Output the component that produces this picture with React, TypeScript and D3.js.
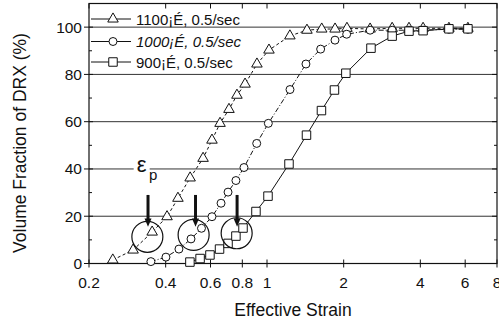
import React from "react";
import * as d3 from "d3";

const strain1100 = [0.248,0.298,0.354,0.405,0.447,0.499,0.561,0.608,0.654,0.709,0.762,0.820,0.913,1.018,1.23,1.435,1.64,1.85,2.06,2.54,3.10,3.61,4.10,5.18,6.15];
const drx1100 = [1.5,5.7,13.3,19.8,27.6,36.2,44.5,52.2,59.3,65.2,71.2,75.9,84.4,90.3,96.3,98.7,99.2,99.2,99.5,99.2,99.5,99.5,99.5,99.5,99.5];

const strain1000 = [0.350,0.401,0.451,0.503,0.553,0.608,0.660,0.703,0.755,0.812,0.911,1.012,1.231,1.422,1.624,1.849,2.055,2.54,3.10,3.61,4.10,5.18,6.15];
const drx1000 = [0.8,2.7,6.1,10.4,14.9,19.8,25.5,30.2,35.1,40.6,50.8,59.3,73.6,84.4,90.7,94.5,97.0,98.7,98.7,98.7,98.7,99.1,99.1];

const strain900 = [0.498,0.546,0.597,0.651,0.703,0.755,0.805,0.905,1.009,1.22,1.429,1.636,1.84,2.04,2.56,3.10,3.61,4.10,5.18,6.15];
const drx900 = [0.6,2.1,3.6,6.1,8.5,11.6,15.0,22.0,28.5,42.1,54.3,64.7,73.4,80.5,91.1,96.2,98.3,98.5,99.3,99.3];

const seriesLabels = ["1100¡É, 0.5/sec", "1000¡É, 0.5/sec", "900¡É, 0.5/sec"];
const xTicks = [0.2, 0.4, 0.6, 0.8, 1, 2, 4, 6, 8];
const xTickLabels = ["0.2", "0.4", "0.6", "0.8", "1", "2", "4", "6", "8"];
const yTicks = [0, 20, 40, 60, 80, 100];
const yMinor = [10, 30, 50, 70, 90, 110];
const gridValues = [20, 40, 60, 80, 100];

// annotation (epsilon_p) positions in data units
const annotStrain = [0.339, 0.515, 0.760];
const annotValue = [11.3, 12.1, 12.8];
const arrowStrain = [0.341, 0.524, 0.763];

export default function App() {
  const W = 499, H = 321;
  const left = 89, right = 497, top = 3.5, bottom = 263.5;
  const x = d3.scaleLog().domain([0.2, 8]).range([left, right]);
  const y = d3.scaleLinear().domain([0, 110]).range([bottom, top]);

  const series = [
    { xs: strain1100, ys: drx1100, sym: d3.symbolTriangle, size: 48, dash: "3,2.5", italic: false },
    { xs: strain1000, ys: drx1000, sym: d3.symbolCircle, size: 50, dash: "5,2,1,2", italic: true },
    { xs: strain900, ys: drx900, sym: d3.symbolSquare, size: 72, dash: null, italic: false },
  ];

  const line = d3.line<[number, number]>().x(d => x(d[0])).y(d => y(d[1]));

  const legendY = [19, 41.5, 62];

  return (
    <svg width={W} height={H} style={{ position: "absolute", left: 0, top: 0, background: "#fff" }}
      fontFamily="Arial, 'Liberation Sans', sans-serif">
      <rect x={0} y={0} width={W} height={H} fill="#fff" />
      {/* grid */}
      {gridValues.map(v => (
        <line key={"g" + v} x1={left} x2={right} y1={y(v)} y2={y(v)} stroke="#333" strokeWidth={1} />
      ))}
      {/* frame */}
      <rect x={left} y={top} width={right - left} height={bottom - top} fill="none" stroke="#111" strokeWidth={1.2} />
      {/* x ticks */}
      {xTicks.map((t, i) => (
        <g key={"xt" + t}>
          <line x1={x(t)} x2={x(t)} y1={bottom - 4} y2={bottom + 4} stroke="#111" />
          <line x1={x(t)} x2={x(t)} y1={top} y2={top + 5} stroke="#111" />
          <text x={x(t)} y={288} textAnchor="middle" fontSize={15.5} fill="#111">{xTickLabels[i]}</text>
        </g>
      ))}
      {/* y ticks */}
      {yTicks.map(t => (
        <g key={"yt" + t}>
          <line x1={left - 5} x2={left + 4} y1={y(t)} y2={y(t)} stroke="#111" />
          <line x1={right - 5} x2={right} y1={y(t)} y2={y(t)} stroke="#111" />
          <text x={82} y={y(t) + 5.5} textAnchor="end" fontSize={15.5} fill="#111">{t}</text>
        </g>
      ))}
      {yMinor.map(t => (
        <g key={"ym" + t}>
          <line x1={left} x2={left + 3} y1={y(t)} y2={y(t)} stroke="#111" />
          <line x1={right - 3} x2={right} y1={y(t)} y2={y(t)} stroke="#111" />
        </g>
      ))}
      {/* axis labels */}
      <text x={293} y={316} textAnchor="middle" fontSize={17.5} fill="#111">Effective Strain</text>
      <text transform={`translate(26,${143}) rotate(-90)`} textAnchor="middle" fontSize={17.5} fill="#111">Volume Fraction of DRX (%)</text>

      {/* series lines */}
      {series.map((s, i) => (
        <path key={"l" + i} d={line(s.xs.map((v, j) => [v, s.ys[j]] as [number, number])) || ""}
          fill="none" stroke="#111" strokeWidth={1} strokeDasharray={s.dash || undefined} />
      ))}
      {/* markers */}
      {series.map((s, i) => (
        <g key={"m" + i}>
          {s.xs.map((v, j) => (
            <path key={j} transform={`translate(${x(v)},${y(s.ys[j])})`}
              d={d3.symbol().type(s.sym).size(s.size)() || ""} fill="#fff" stroke="#111" strokeWidth={1} />
          ))}
        </g>
      ))}

      {/* annotation circles */}
      {annotStrain.map((v, i) => (
        <circle key={"ac" + i} cx={x(v)} cy={y(annotValue[i])} r={15.5} fill="none" stroke="#111" strokeWidth={1.2} />
      ))}
      {/* arrows */}
      {arrowStrain.map((v, i) => (
        <g key={"ar" + i}>
          <line x1={x(v)} x2={x(v)} y1={y(29)} y2={y(18.5)} stroke="#111" strokeWidth={3} />
          <path d={`M${x(v) - 3.5},${y(19)} L${x(v) + 3.5},${y(19)} L${x(v)},${y(15.5)} Z`} fill="#111" />
        </g>
      ))}
      {/* epsilon_p */}
      <rect x={x(0.322) - 8} y={y(41.6) - 9} width={16} height={17} fill="#fff" />
      <text x={x(0.322)} y={y(41.6) + 7} textAnchor="middle" fontSize={22} fill="#111">ε</text>
      <text x={x(0.357)} y={y(37.4) + 5} textAnchor="middle" fontSize={15} fill="#111">p</text>

      {/* legend */}
      {series.map((s, i) => (
        <g key={"lg" + i}>
          <line x1={left + 2} x2={131} y1={legendY[i]} y2={legendY[i]} stroke="#111" strokeWidth={1} />
          <path transform={`translate(${113},${legendY[i]})`} d={d3.symbol().type(s.sym).size(s.size)() || ""}
            fill="#fff" stroke="#111" strokeWidth={1} />
          <text x={136} y={legendY[i] + 5.5} fontSize={15} fontStyle={s.italic ? "italic" : "normal"} fill="#111">{seriesLabels[i]}</text>
        </g>
      ))}
    </svg>
  );
}
